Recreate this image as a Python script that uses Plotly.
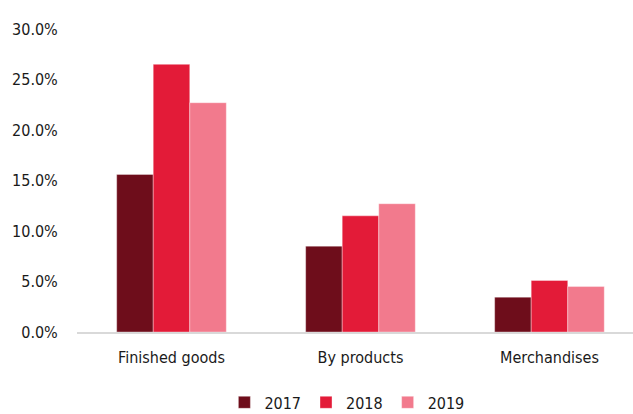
import plotly.graph_objects as go

categories = ["Finished goods", "By products", "Merchandises"]
years = ["2017", "2018", "2019"]
values_2017 = [15.6, 8.5, 3.45]
values_2018 = [26.5, 11.5, 5.1]
values_2019 = [22.7, 12.7, 4.5]
colors = ["#6E0D1B", "#E31B38", "#F27A8D"]
tick_vals = [0, 5, 10, 15, 20, 25, 30]
tick_text = ["0.0%", "5.0%", "10.0%", "15.0%", "20.0%", "25.0%", "30.0%"]

FONT = "DejaVu Sans Condensed, Liberation Sans Narrow, sans-serif"

fig = go.Figure()
for y, vals, c in zip(years, [values_2017, values_2018, values_2019], colors):
    fig.add_trace(go.Bar(name=y, x=categories, y=vals, marker_color=c,
                         marker_line_color="rgba(255,255,255,0.6)", marker_line_width=0.6))

fig.update_layout(
    width=633, height=414,
    margin=dict(l=77, r=0, t=29, b=82),
    barmode="group", bargap=0.42, bargroupgap=0,
    plot_bgcolor="white", paper_bgcolor="white",
    font=dict(family=FONT, size=16, color="#1a1a1a"),
    showlegend=True,
    legend=dict(orientation="h", x=0.548, xref="container", xanchor="center",
                y=0.028, yref="container", yanchor="middle",
                font=dict(size=16), itemwidth=30, traceorder="normal"),
    xaxis=dict(range=[-0.5, 2.442], showline=True, linecolor="#d9d9d9", linewidth=2,
               ticks="outside", ticklen=10, tickcolor="rgba(0,0,0,0)", showgrid=False),
    yaxis=dict(range=[0, 30], tickvals=tick_vals, ticktext=tick_text, showgrid=False,
               zeroline=False, ticks="outside", ticklen=15, tickcolor="rgba(0,0,0,0)"),
)

fig.write_html("out.html")
